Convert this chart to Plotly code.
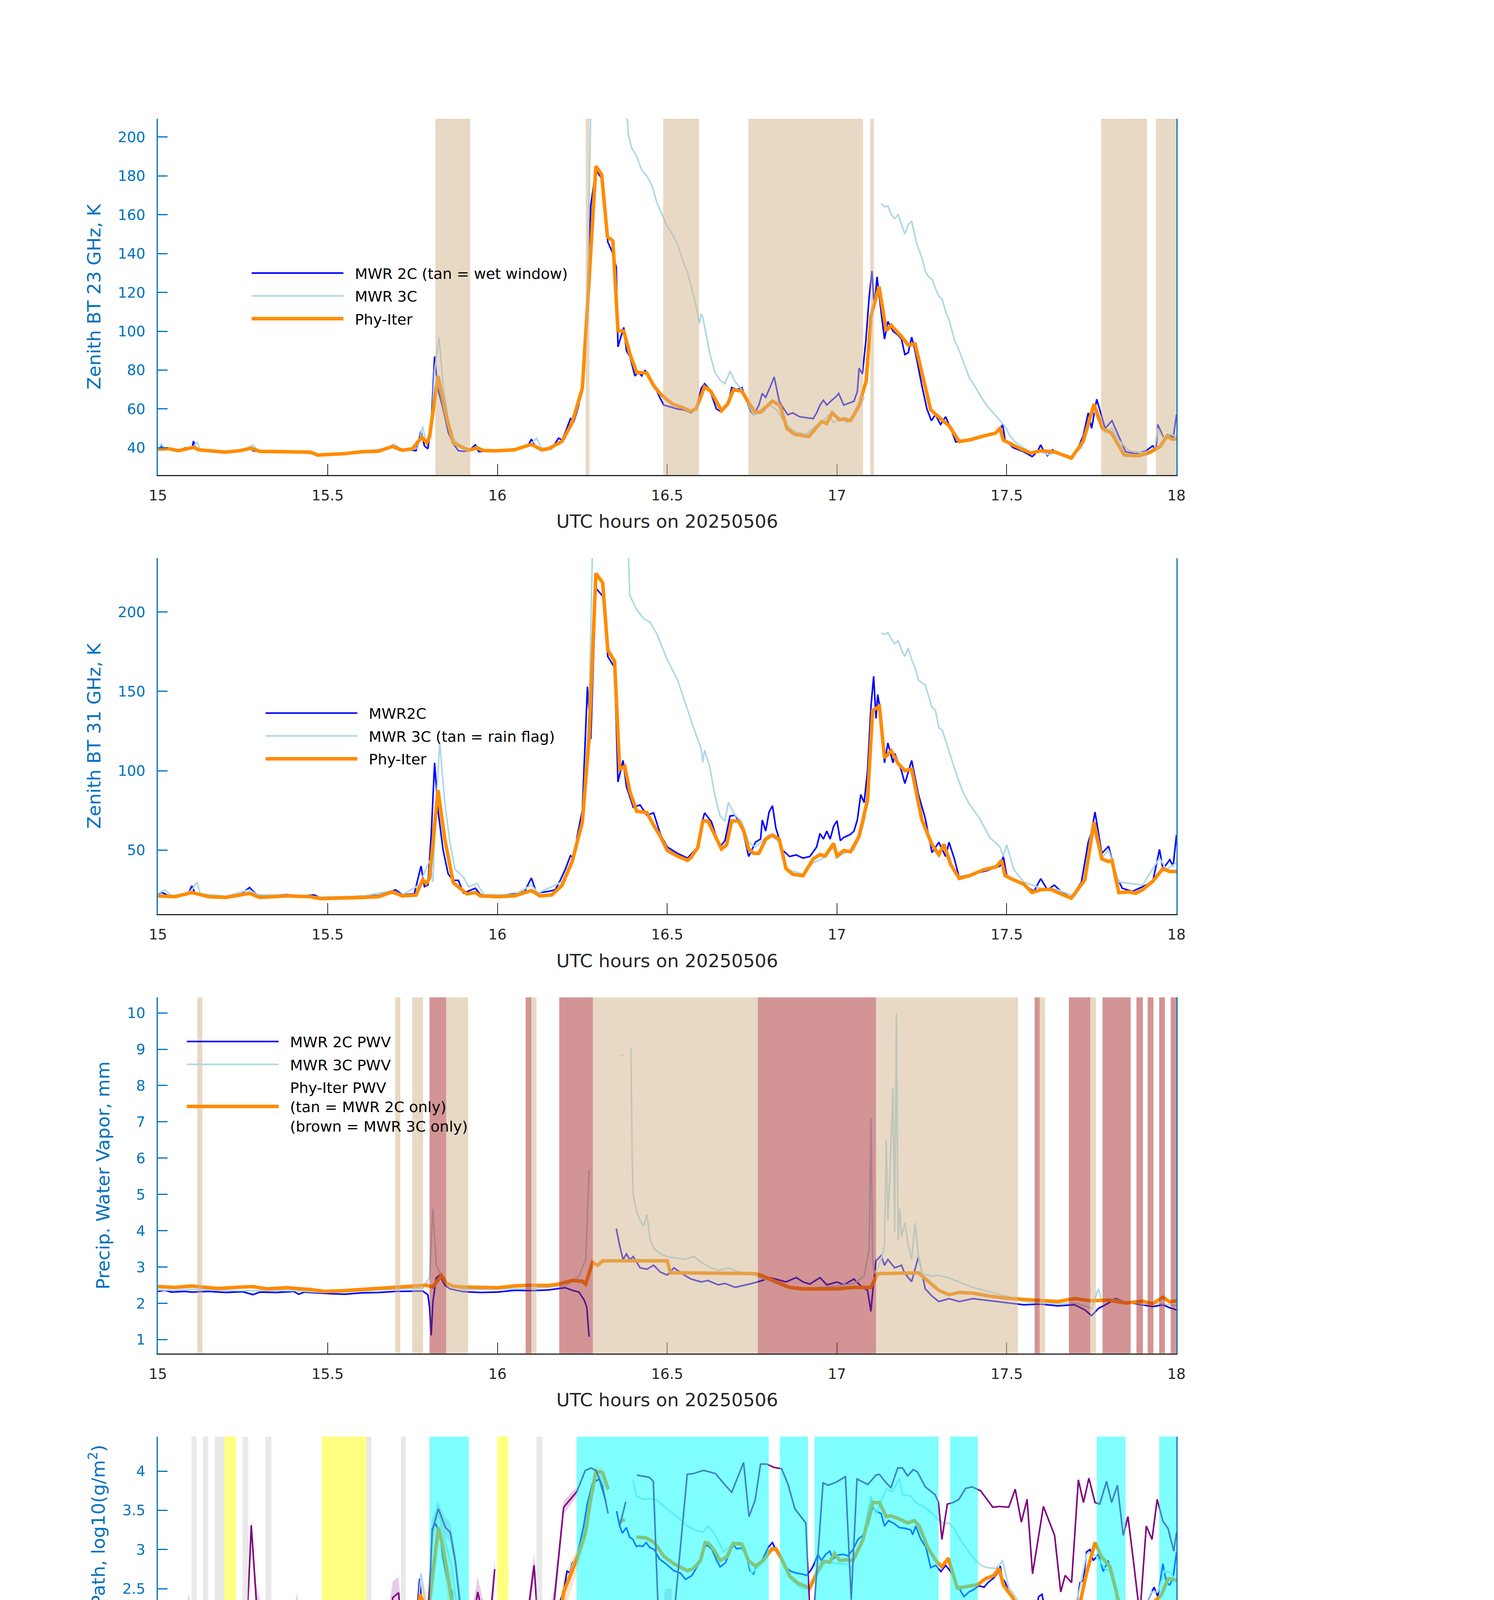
import plotly.graph_objects as go

# ---------------- panel 1: zenith BT 23 GHz (K), (hour, value) ----------------
bt23_2c = [(15.00,39.5),(15.01,41),(15.02,39),(15.04,39.5),(15.06,38.2),(15.08,40),(15.10,39.5),(15.105,43.5),(15.11,40),
    (15.13,39),(15.16,38.5),(15.2,37.8),(15.25,38.5),(15.27,40.5),(15.28,38.5),(15.3,38.0),(15.35,38.2),(15.4,38.0),
    (15.45,37.5),(15.47,36.2),(15.5,36.6),(15.55,37.0),(15.6,37.8),(15.65,38.5),(15.68,40.5),(15.70,41),(15.72,38.5),
    (15.74,39),(15.76,38.5),(15.775,48.5),(15.785,41),(15.795,39.5),(15.805,52),(15.815,87),(15.825,70),(15.84,60),
    (15.855,48),(15.87,42),(15.885,38.5),(15.9,38.2),(15.915,38.5),(15.935,41.5),(15.945,38),(15.97,38.5),(16.0,38.5),
    (16.05,39.5),(16.09,41),(16.1,44.5),(16.11,41),(16.13,38.5),(16.16,39.5),(16.18,45),(16.19,44),(16.2,48),(16.215,55),
    (16.225,53.5),(16.24,62),(16.255,80),(16.265,120),(16.275,165),(16.29,183),(16.31,178),(16.325,146),(16.34,140),
    (16.35,133),(16.355,92),(16.365,98),(16.372,102),(16.38,90),(16.39,87),(16.405,77),(16.415,79),(16.425,77),
    (16.435,80),(16.445,76),(16.46,73),(16.475,67),(16.49,62),(16.51,61),(16.53,60),(16.55,59.5),(16.57,58),(16.585,60),
    (16.6,70.5),(16.61,73),(16.625,70),(16.645,60),(16.66,58.5),(16.68,63),(16.69,71),(16.705,70),(16.72,71),(16.735,64),
    (16.745,59),(16.755,57),(16.77,62),(16.78,68),(16.79,66),(16.805,72),(16.815,76.5),(16.83,64),(16.84,61),(16.855,57),
    (16.87,58),(16.89,56),(16.91,55.5),(16.93,55),(16.94,58),(16.95,62),(16.96,64.5),(16.97,62),(16.985,64.5),(16.995,66),
    (17.005,68),(17.02,62),(17.035,63),(17.05,64),(17.06,69),(17.065,81),(17.075,78),(17.085,95),(17.095,118),(17.103,131),
    (17.11,112),(17.118,128),(17.13,110),(17.14,96),(17.15,105),(17.165,100),(17.18,98),(17.19,96),(17.2,88),(17.21,89),
    (17.22,97),(17.23,90),(17.25,72),(17.265,60),(17.278,54),(17.29,57),(17.305,52),(17.32,56),(17.335,50),(17.35,43),
    (17.38,44),(17.42,46),(17.46,47),(17.48,49),(17.488,52),(17.495,44),(17.52,40),(17.55,38),(17.575,35.5),(17.59,38),
    (17.6,41.5),(17.61,38),(17.62,36),(17.635,39),(17.65,37),(17.69,35),(17.71,40),(17.725,46),(17.74,58),(17.75,50),
    (17.765,65),(17.78,56),(17.79,50),(17.81,54),(17.83,46),(17.85,38),(17.88,37),(17.91,38.5),(17.93,41),(17.94,39),
    (17.945,52),(17.955,48),(17.965,44),(17.98,47),(17.99,45),(18.0,57)]
bt23_3c = [(15.0,39),(15.01,42),(15.02,39.5),(15.05,39),(15.07,38.5),(15.1,39.5),(15.115,43),(15.125,39),(15.16,38.5),
    (15.2,37.8),(15.25,38.5),(15.28,41.5),(15.295,38.5),(15.35,38.2),(15.4,38),(15.47,36.5),(15.55,37),(15.6,38),(15.68,40),
    (15.695,42),(15.71,38.5),(15.74,39),(15.765,40),(15.78,51),(15.79,42),(15.805,47),(15.815,80),(15.828,97),(15.84,72),
    (15.855,55),(15.87,45),(15.885,42),(15.9,39),(15.92,38.5),(15.935,40.5),(15.95,38.5),(16.0,38.5),(16.06,39.5),(16.1,42),
    (16.115,45),(16.13,40),(16.16,39.5),(16.19,44),(16.22,52),(16.25,68),(16.265,120),(16.275,215),(16.38,215),(16.386,201),
    (16.395,194.5),(16.41,190),(16.425,183),(16.44,180),(16.455,175),(16.47,166),(16.485,160),(16.5,154),(16.515,150),
    (16.53,145),(16.545,137),(16.56,130),(16.575,120),(16.585,113.5),(16.595,104),(16.6,109),(16.605,107),(16.615,98),
    (16.625,89),(16.64,79),(16.655,75),(16.67,73),(16.685,79.5),(16.7,74),(16.72,70),(16.74,62),(16.755,57),(16.78,58),
    (16.8,62),(16.82,60),(16.85,52),(16.88,48),(16.91,47),(16.935,51),(16.955,53),(16.975,57),(16.99,53),(17.01,55),
    (17.03,53),(17.05,56),(17.07,62),(17.08,66),(17.09,None),(17.13,166),(17.14,164),(17.15,164.5),(17.16,160),(17.17,158),
    (17.18,160),(17.19,155),(17.2,150),(17.21,155),(17.22,156.5),(17.235,145),(17.25,138),(17.26,131),(17.27,128),
    (17.28,127),(17.29,122),(17.3,118),(17.31,116.5),(17.32,110),(17.33,106),(17.345,96),(17.36,90),(17.375,83),(17.39,76),
    (17.405,72),(17.42,67.5),(17.44,62),(17.46,58),(17.475,55),(17.485,53),(17.495,51),(17.51,46),(17.525,43),(17.55,40),
    (17.575,37),(17.6,38),(17.62,36.5),(17.65,37.5),(17.69,35.5),(17.72,40),(17.74,50),(17.755,60),(17.775,52),(17.79,48),
    (17.81,50),(17.83,44),(17.86,38.5),(17.9,37.5),(17.935,39),(17.945,50),(17.96,45),(17.98,47),(18.0,46)]
bt23_phy = [(15.00,39.3),(15.03,39.6),(15.06,38.5),(15.08,39.5),(15.105,40.3),(15.12,39),(15.15,38.5),(15.2,37.8),(15.24,38.5),
    (15.275,39.8),(15.3,38.2),(15.35,38.2),(15.4,38.0),(15.45,37.8),(15.47,36.3),(15.5,36.5),(15.55,37.0),(15.6,38.0),
    (15.65,38.3),(15.69,40.7),(15.72,38.8),(15.75,39.5),(15.777,45.5),(15.792,42.5),(15.80,45.8),(15.825,77),(15.85,55.8),
    (15.87,42.5),(15.915,38.8),(15.94,40.0),(15.96,38.6),(16.0,38.5),(16.05,39.0),(16.10,41.8),(16.13,39.0),(16.15,39.5),
    (16.19,43.3),(16.22,52.9),(16.25,70.7),(16.267,118),(16.29,185),(16.307,180.6),(16.324,148.6),(16.34,146.5),
    (16.355,100.3),(16.372,100),(16.39,88.4),(16.41,78.8),(16.44,78.5),(16.46,72),(16.48,67.7),(16.516,62.5),(16.547,60.6),
    (16.568,58.8),(16.585,60),(16.61,71.4),(16.628,69.2),(16.66,59.1),(16.678,62.5),(16.695,69.9),(16.72,69.2),(16.737,64),
    (16.758,58.5),(16.775,58.5),(16.81,64),(16.832,61.8),(16.853,49.9),(16.875,47),(16.917,45.8),(16.955,53.6),(16.97,52.5),
    (16.986,58),(17.008,54.4),(17.02,55),(17.04,54),(17.065,61.8),(17.086,74.4),(17.10,107.7),(17.124,123),(17.145,100.3),
    (17.16,103),(17.19,97.3),(17.21,92.9),(17.23,93.5),(17.255,75),(17.276,59.6),(17.30,55.8),(17.318,53),(17.33,51.4),
    (17.36,43.3),(17.39,44),(17.434,46.2),(17.466,47.5),(17.48,49.9),(17.49,44),(17.54,39.6),(17.571,37.3),(17.60,38.5),
    (17.64,38),(17.69,34.7),(17.725,43.3),(17.757,62.5),(17.782,49.9),(17.808,47.7),(17.846,36.3),(17.888,35.9),(17.92,37.5),
    (17.951,40.6),(17.973,46.2),(17.985,44.5),(18.0,44.5)]
wet_window = [(15.817,15.920),(16.260,16.271),(16.488,16.594),(16.739,17.077),(17.098,17.109),(17.778,17.913),(17.939,18.0)]

# ---------------- panel 2: zenith BT 31 GHz (K) ----------------
bt31_2c = [(15.0,22),(15.01,23.5),(15.03,21.5),(15.06,21),(15.09,23),(15.1,27.5),(15.11,22.5),(15.15,21.5),(15.2,20.8),
    (15.24,21.5),(15.27,26.5),(15.29,22),(15.33,21.2),(15.38,22),(15.42,21),(15.46,21.8),(15.48,20),(15.55,20.5),(15.6,21),
    (15.65,21.5),(15.68,23.5),(15.7,25),(15.72,22),(15.755,22.5),(15.775,40),(15.785,27),(15.795,28),(15.805,60),
    (15.815,105),(15.825,75),(15.84,50),(15.855,35),(15.87,31),(15.885,31),(15.9,23),(15.935,26),(15.95,22),(16.0,21.5),
    (16.05,22.5),(16.08,24),(16.1,32.5),(16.115,23),(16.15,24),(16.17,25),(16.185,31),(16.2,38),(16.215,46.5),(16.225,45),
    (16.235,59),(16.25,75),(16.265,153),(16.275,120),(16.29,215),(16.31,210),(16.325,172),(16.345,165),(16.355,93),
    (16.37,106.5),(16.38,90),(16.4,77),(16.42,78.5),(16.44,72),(16.46,73.5),(16.48,60),(16.5,52),(16.53,48),(16.56,45),
    (16.59,52),(16.6,65),(16.61,73.5),(16.63,68),(16.655,52),(16.67,56),(16.685,71.5),(16.7,72),(16.72,65),(16.74,46),
    (16.76,55),(16.775,57),(16.78,69),(16.79,62),(16.8,74),(16.81,78),(16.82,64),(16.84,50),(16.86,46),(16.88,47),(16.9,45),
    (16.92,46),(16.94,52),(16.95,60.5),(16.96,57),(16.97,62),(16.98,57),(16.99,65),(17.0,68.5),(17.01,56),(17.02,58),
    (17.04,60),(17.05,62),(17.06,69),(17.07,85),(17.08,80),(17.09,100),(17.1,140),(17.108,159.5),(17.115,133),(17.12,148),
    (17.13,135),(17.14,105),(17.15,117.5),(17.165,105),(17.17,111),(17.19,100),(17.2,92),(17.22,106.5),(17.24,85),
    (17.26,70),(17.28,48.5),(17.3,55),(17.32,46),(17.33,55),(17.345,45),(17.36,33),(17.4,35),(17.44,37),(17.48,40),
    (17.49,46),(17.5,34),(17.53,30),(17.56,27),(17.58,24),(17.6,32),(17.62,25),(17.64,28),(17.66,24),(17.69,20),(17.72,30),
    (17.74,55),(17.75,62),(17.76,74),(17.78,48),(17.8,52.5),(17.82,35),(17.84,26),(17.87,24),(17.9,27),(17.93,30),
    (17.95,50.5),(17.96,38),(17.98,44),(17.99,40),(18.0,59.5)]
bt31_3c = [(15.0,22.5),(15.02,25),(15.04,21.5),(15.08,22),(15.1,25),(15.115,30),(15.125,22.5),(15.2,21),(15.27,25),
    (15.29,22),(15.4,21.5),(15.48,20.5),(15.6,21),(15.69,24.5),(15.72,22),(15.77,28),(15.8,43.5),(15.81,30),(15.82,80),
    (15.83,118),(15.845,80),(15.86,55),(15.875,38),(15.9,33),(15.915,27),(15.94,29),(15.96,22),(16.05,22),(16.1,28),
    (16.12,23),(16.19,30),(16.22,45),(16.25,70),(16.27,140),(16.28,240),(16.385,240),(16.39,210.5),(16.41,201.5),
    (16.43,196),(16.45,193.5),(16.47,186),(16.5,170),(16.53,157.5),(16.56,138),(16.58,125.7),(16.6,114),(16.605,105.4),
    (16.61,113),(16.625,102.8),(16.64,85),(16.655,72),(16.67,68),(16.68,80),(16.7,72),(16.72,68),(16.74,55),(16.76,52),
    (16.8,60),(16.83,55),(16.85,38),(16.9,35),(16.93,42),(16.96,45),(16.99,52),(17.0,45),(17.02,48),(17.05,50),(17.07,60),
    (17.085,72),(17.09,None),(17.13,186.7),(17.14,186),(17.15,187),(17.16,183),(17.17,180),(17.18,182),(17.19,176),
    (17.2,172),(17.21,177.3),(17.22,170),(17.23,165),(17.24,157),(17.26,154),(17.28,140),(17.29,138),(17.3,127),
    (17.31,125.7),(17.33,112),(17.35,99),(17.37,87),(17.39,79),(17.42,70),(17.45,58),(17.48,52),(17.49,46),(17.5,53.4),
    (17.52,38),(17.55,30),(17.6,26),(17.65,25),(17.7,21),(17.73,32),(17.75,65),(17.78,45),(17.8,50),(17.83,30),(17.9,28),
    (17.95,45),(17.97,38),(18.0,42)]
bt31_phy = [(15.0,21.2),(15.05,20.7),(15.1,23.3),(15.15,20.7),(15.2,20.2),(15.27,22.8),(15.3,20.2),(15.38,21.2),(15.45,20.7),
    (15.48,19.5),(15.6,20.2),(15.65,20.7),(15.69,23.7),(15.72,21.2),(15.76,21.7),(15.78,31.3),(15.79,29),(15.80,32.2),
    (15.825,87.8),(15.845,56.9),(15.87,29.5),(15.91,22.5),(15.935,23.3),(15.95,21.2),(16.0,20.7),(16.05,21.2),(16.1,24.6),
    (16.125,21.2),(16.16,21.8),(16.19,27.8),(16.22,42.8),(16.25,67.5),(16.27,120.4),(16.29,224.3),(16.31,218.4),
    (16.325,176),(16.345,169),(16.36,101),(16.375,102.8),(16.39,86.9),(16.41,74.5),(16.44,73.7),(16.46,65.7),(16.48,58.7),
    (16.5,49.8),(16.53,46.3),(16.56,43.6),(16.57,45.4),(16.59,51.6),(16.605,68.4),(16.62,68.4),(16.66,50.7),(16.675,53.4),
    (16.69,68.4),(16.71,68.4),(16.725,62.2),(16.74,50.7),(16.755,48),(16.77,48),(16.79,56.9),(16.81,59.5),(16.83,56.9),
    (16.85,38.3),(16.87,34.8),(16.9,33.9),(16.93,44.5),(16.95,47.2),(16.965,46.3),(16.99,54.2),(17.0,46.3),(17.02,49.8),
    (17.04,49),(17.065,58.7),(17.09,81.6),(17.105,138),(17.125,140.7),(17.14,108),(17.16,112.5),(17.18,104.6),(17.2,100.1),
    (17.22,101),(17.25,69.2),(17.28,53.4),(17.3,47.2),(17.315,53.7),(17.335,41),(17.36,32.2),(17.39,33.9),(17.43,37.5),
    (17.47,39.6),(17.485,43.6),(17.495,34),(17.52,31.3),(17.55,28.6),(17.575,23.3),(17.6,25.1),(17.63,25.4),(17.65,23.3),
    (17.69,19.8),(17.73,31.3),(17.757,67.5),(17.78,44.5),(17.8,42.8),(17.81,43.6),(17.83,23.3),(17.86,23.7),(17.88,22.8),
    (17.9,25.1),(17.93,30.4),(17.96,38.3),(17.98,36.6),(18.0,36.6)]

# ---------------- panel 3: precipitable water vapor (mm) ----------------
pwv_2c = [(15.0,2.33),(15.02,2.36),(15.04,2.31),(15.08,2.33),(15.1,2.31),(15.15,2.33),(15.2,2.30),(15.25,2.32),(15.28,2.24),
    (15.3,2.31),(15.35,2.30),(15.4,2.33),(15.415,2.25),(15.43,2.31),(15.5,2.27),(15.55,2.25),(15.6,2.29),(15.65,2.30),
    (15.7,2.33),(15.75,2.34),(15.78,2.34),(15.795,2.24),(15.8,1.9),(15.805,1.12),(15.81,2.05),(15.82,2.70),(15.83,2.78),
    (15.845,2.50),(15.86,2.40),(15.9,2.32),(15.95,2.30),(16.0,2.31),(16.05,2.36),(16.1,2.35),(16.15,2.37),(16.2,2.43),
    (16.22,2.36),(16.24,2.31),(16.255,2.1),(16.263,1.9),(16.27,1.08),(16.275,None),(16.35,4.06),(16.36,3.59),(16.37,3.21),
    (16.38,3.36),(16.39,3.2),(16.4,3.29),(16.42,2.98),(16.44,2.94),(16.46,3.05),(16.48,2.86),(16.5,2.78),(16.52,2.98),
    (16.55,2.78),(16.57,2.67),(16.6,2.59),(16.62,2.63),(16.65,2.51),(16.67,2.55),(16.7,2.44),(16.72,2.48),(16.75,2.55),
    (16.78,2.63),(16.8,2.71),(16.82,2.67),(16.85,2.59),(16.88,2.71),(16.9,2.59),(16.92,2.53),(16.95,2.71),(16.97,2.51),
    (17.0,2.59),(17.02,2.51),(17.05,2.67),(17.07,2.48),(17.09,2.36),(17.1,1.78),(17.105,2.3),(17.115,3.17),(17.13,3.32),
    (17.14,3.05),(17.15,3.21),(17.17,2.98),(17.19,3.05),(17.2,2.82),(17.22,2.6),(17.24,3.29),(17.26,2.40),(17.28,2.20),
    (17.3,2.05),(17.33,2.13),(17.36,2.05),(17.4,2.13),(17.45,2.07),(17.5,2.01),(17.55,1.96),(17.6,1.98),(17.65,1.93),
    (17.7,1.96),(17.73,1.82),(17.75,1.66),(17.77,1.86),(17.8,2.01),(17.82,2.13),(17.85,2.04),(17.9,1.96),(17.93,1.91),
    (17.96,1.96),(17.98,1.88),(18.0,1.82)]
pwv_3c = [(15.0,2.37),(15.05,2.36),(15.1,2.39),(15.2,2.35),(15.3,2.35),(15.4,2.35),(15.49,2.30),(15.55,2.31),(15.65,2.37),
    (15.72,2.40),(15.78,2.42),(15.8,2.70),(15.81,4.6),(15.82,3.05),(15.83,2.85),(15.85,2.52),(15.9,2.38),
    (16.0,2.39),(16.1,2.41),(16.2,2.48),(16.24,2.75),(16.26,3.21),(16.27,5.68),(16.275,None),(16.366,8.86),(16.369,8.8),
    (16.372,None),(16.393,9.02),(16.397,5.9),(16.4,4.98),(16.41,4.52),(16.42,4.29),(16.43,4.13),(16.44,4.44),(16.45,3.75),
    (16.46,3.52),(16.48,3.36),(16.5,3.29),(16.55,3.21),(16.58,3.29),(16.6,3.13),(16.63,2.98),(16.65,2.9),(16.68,2.98),
    (16.7,2.9),(16.75,2.79),(16.8,2.63),(16.85,2.44),(16.9,2.38),(16.95,2.44),(17.0,2.48),(17.05,2.55),(17.08,2.75),
    (17.095,3.5),(17.1,7.1),(17.105,3.2),(17.11,2.82),(17.12,2.98),(17.13,3.21),(17.14,3.6),(17.145,6.49),(17.15,4.29),
    (17.155,5.37),(17.165,7.92),(17.17,3.98),(17.175,10.0),(17.18,3.75),(17.185,4.6),(17.19,3.83),(17.2,4.21),(17.21,3.6),
    (17.22,3.21),(17.23,4.21),(17.24,3.29),(17.25,2.82),(17.28,2.75),(17.3,2.77),(17.33,2.7),(17.36,2.59),(17.4,2.44),
    (17.45,2.32),(17.5,2.2),(17.55,2.05),(17.6,2.01),(17.65,1.99),(17.7,2.01),(17.73,1.93),(17.75,1.86),(17.77,2.40),
    (17.78,2.05),(17.8,2.13),(17.85,2.05),(17.9,1.98),(17.95,1.99),(18.0,1.94)]
pwv_phy = [(15.0,2.46),(15.05,2.44),(15.1,2.48),(15.15,2.44),(15.175,2.41),(15.25,2.45),(15.28,2.46),(15.32,2.40),
    (15.38,2.43),(15.45,2.38),(15.49,2.33),(15.55,2.35),(15.6,2.38),(15.64,2.42),(15.7,2.46),(15.77,2.49),(15.79,2.50),
    (15.81,2.45),(15.835,2.77),(15.85,2.55),(15.87,2.47),(15.9,2.45),(15.95,2.44),(16.0,2.43),(16.05,2.48),(16.1,2.50),
    (16.15,2.49),(16.18,2.53),(16.22,2.63),(16.25,2.61),(16.26,2.53),(16.28,3.13),(16.295,3.05),(16.31,3.17),(16.5,3.17),
    (16.51,2.84),(16.55,2.84),(16.65,2.84),(16.7,2.82),(16.76,2.82),(16.78,2.76),(16.82,2.59),(16.86,2.44),(16.9,2.40),
    (16.95,2.40),(17.0,2.40),(17.05,2.44),(17.1,2.44),(17.12,2.82),(17.24,2.84),(17.3,2.36),(17.33,2.24),(17.36,2.30),
    (17.4,2.28),(17.45,2.20),(17.5,2.14),(17.55,2.11),(17.6,2.09),(17.65,2.05),(17.7,2.13),(17.75,2.07),(17.8,2.09),
    (17.85,2.01),(17.9,2.06),(17.93,1.99),(17.96,2.17),(17.98,2.04),(18.0,2.07)]
only_2c = [(15.116,15.131),(15.699,15.714),(15.749,15.781),(15.849,15.914),(16.100,16.115),(16.281,16.767),(17.115,17.533),
    (17.597,17.613),(17.746,17.763)]
only_3c = [(15.800,15.849),(16.083,16.100),(16.182,16.281),(16.767,17.115),(17.582,17.597),(17.683,17.746),(17.782,17.865),
    (17.882,17.901),(17.915,17.932),(17.949,17.966),(17.983,18.0)]

# ---------------- panel 4: log10 liquid water path ----------------
lwp_2c = [(15.0,1.58),(15.009,1.84),(15.019,1.51),(15.033,1.72),(15.043,1.58),(15.057,1.69),(15.067,1.63),(15.076,1.82),
    (15.091,1.84),(15.106,1.76),(15.118,2.18),(15.131,1.51),(15.145,1.66),(15.157,1.55),(15.168,1.54),(15.183,1.60),
    (15.19,1.51),(15.197,1.45),(15.205,1.51),(15.215,1.54),(15.225,1.45),(15.241,1.63),(15.253,1.57),(15.27,1.84),
    (15.277,1.66),(15.284,2.07),(15.296,2.07),(15.309,1.64),(15.318,1.69),(15.333,1.45),(15.343,1.52),(15.357,1.69),
    (15.367,1.66),(15.382,1.70),(15.396,1.58),(15.405,1.54),(15.417,1.61),(15.43,1.54),(15.44,1.70),(15.454,1.69),
    (15.467,1.54),(15.479,1.43),(15.488,1.49),(15.503,1.36),(15.518,1.43),(15.537,1.45),(15.556,1.44),(15.576,1.46),
    (15.59,1.51),(15.605,1.45),(15.619,1.51),(15.629,1.51),(15.643,1.55),(15.653,1.67),(15.663,1.79),(15.672,1.95),
    (15.684,1.79),(15.697,1.94),(15.706,1.66),(15.716,1.49),(15.725,1.51),(15.738,1.87),(15.754,1.87),(15.764,2.27),
    (15.771,2.63),(15.781,2.10),(15.79,1.95),(15.8,2.31),(15.808,3.27),(15.818,3.33),(15.832,3.18),(15.839,2.91),
    (15.851,2.64),(15.866,2.46),(15.871,2.16),(15.886,1.90),(15.895,1.78),(15.91,1.58),(15.919,1.69),(15.926,1.82),
    (15.936,1.63),(15.949,1.51),(15.958,1.45),(15.968,1.69),(15.975,1.84),(15.982,1.45),(15.997,1.54),(16.012,1.51),
    (16.026,1.58),(16.039,1.54),(16.051,1.57),(16.06,1.72),(16.07,1.51),(16.08,1.87),(16.089,1.69),(16.099,2.10),
    (16.108,2.28),(16.118,1.78),(16.133,1.63),(16.142,1.60),(16.152,1.58),(16.161,1.87),(16.171,1.95),(16.184,2.34),
    (16.195,2.46),(16.205,2.73),(16.213,2.70),(16.22,2.82),(16.234,2.91),(16.254,3.30),(16.264,3.57),(16.28,3.85),
    (16.3,3.9),(16.32,3.6),(16.33,None),(16.351,3.49),(16.36,3.30),(16.368,3.21),(16.38,3.28),(16.389,3.16),(16.399,3.13),
    (16.409,3.04),(16.419,3.05),(16.428,3.04),(16.438,3.09),(16.448,3.03),(16.462,3.0),(16.477,2.88),(16.496,2.82),
    (16.52,2.73),(16.539,2.70),(16.554,2.62),(16.573,2.67),(16.593,2.82),(16.607,3.01),(16.617,3.06),(16.632,3.0),
    (16.646,2.86),(16.656,2.78),(16.671,2.83),(16.686,2.97),(16.695,3.06),(16.705,3.01),(16.72,3.02),(16.734,2.91),
    (16.744,2.73),(16.754,2.69),(16.766,2.82),(16.778,2.85),(16.788,2.94),(16.798,3.03),(16.81,3.09),(16.822,2.97),
    (16.837,2.86),(16.852,2.76),(16.866,2.72),(16.881,2.70),(16.896,2.69),(16.91,2.67),(16.922,2.73),(16.93,2.79),
    (16.944,2.94),(16.954,2.86),(16.967,2.94),(16.979,2.98),(16.988,2.88),(17.003,2.93),(17.018,2.94),(17.032,2.92),
    (17.047,3.0),(17.062,3.13),(17.076,3.18),(17.091,3.31),(17.105,3.54),(17.115,3.49),(17.13,3.46),(17.14,3.30),
    (17.152,3.37),(17.169,3.33),(17.184,3.28),(17.203,3.27),(17.218,3.25),(17.223,3.19),(17.232,3.30),(17.247,3.13),
    (17.262,3.03),(17.276,2.77),(17.291,2.80),(17.306,2.72),(17.32,2.80),(17.335,2.72),(17.35,2.58),(17.364,2.48),
    (17.374,2.40),(17.389,2.46),(17.403,2.49),(17.418,2.54),(17.433,2.52),(17.445,2.58),(17.462,2.64),(17.477,2.73),
    (17.481,2.79),(17.486,2.64),(17.496,2.58),(17.506,2.46),(17.52,2.34),(17.535,2.22),(17.547,2.30),(17.56,2.22),
    (17.574,2.12),(17.584,2.19),(17.594,2.40),(17.604,2.43),(17.613,2.22),(17.625,2.22),(17.633,2.28),(17.643,2.18),
    (17.652,2.07),(17.662,2.04),(17.672,1.93),(17.686,1.92),(17.696,2.25),(17.706,2.31),(17.716,2.58),(17.726,2.61),
    (17.735,2.97),(17.745,3.0),(17.755,2.86),(17.77,2.94),(17.784,2.72),(17.799,2.86),(17.813,2.58),(17.828,2.40),
    (17.843,2.18),(17.853,2.22),(17.862,2.30),(17.872,2.13),(17.882,2.05),(17.895,2.22),(17.906,2.27),(17.921,2.40),
    (17.934,2.52),(17.945,2.40),(17.96,2.82),(17.97,2.58),(17.98,2.55),(17.99,2.64),(18.0,2.97)]
lwp_3c = [(15.0,1.36),(15.01,1.5),(15.02,1.55),(15.035,1.35),(15.05,1.35),(15.065,1.45),(15.08,1.4),(15.1,1.5),(15.115,1.6),
    (15.125,2.35),(15.135,1.5),(15.15,1.4),(15.17,1.35),(15.185,1.3),(15.2,1.25),(15.21,1.22),(15.22,1.2),(15.235,1.25),
    (15.25,1.35),(15.265,1.45),(15.28,1.5),(15.295,1.7),(15.305,2.0),(15.315,1.6),(15.33,1.4),(15.345,1.35),(15.36,1.45),
    (15.38,1.5),(15.395,1.4),(15.41,1.45),(15.43,1.35),(15.445,1.3),(15.46,1.3),(15.475,1.25),(15.49,1.18),(15.5,1.12),
    (15.51,1.15),(15.53,1.17),(15.55,1.18),(15.57,1.2),(15.59,1.22),(15.61,1.25),(15.63,1.26),(15.645,1.3),(15.66,1.45),
    (15.675,1.6),(15.69,1.7),(15.705,1.55),(15.72,1.6),(15.735,1.75),(15.75,1.9),(15.765,2.2),(15.775,2.7),(15.785,2.4),
    (15.795,2.2),(15.805,2.9),(15.815,3.4),(15.825,3.6),(15.835,3.3),(15.85,3.05),(15.865,2.8),(15.88,2.3),(15.895,1.9),
    (15.91,1.6),(15.925,1.5),(15.94,1.45),(15.955,1.35),(15.97,1.3),(15.99,1.3),(16.01,1.25),(16.03,1.28),(16.05,1.3),
    (16.07,1.25),(16.09,1.45),(16.105,1.6),(16.12,1.9),(16.135,1.55),(16.15,1.5),(16.165,1.75),(16.18,2.1),(16.2,2.5),
    (16.22,2.8),(16.24,3.0),(16.255,3.2),(16.27,3.6),(16.285,3.92),(16.3,3.95),(16.315,3.8),(16.33,None),(16.399,3.88),
    (16.41,3.68),(16.43,3.64),(16.45,3.65),(16.47,3.63),(16.49,3.55),(16.5,3.52),(16.529,3.42),(16.559,3.30),(16.583,3.25),
    (16.603,3.22),(16.622,3.30),(16.642,3.18),(16.666,2.97),(16.69,3.06),(16.71,3.09),(16.729,3.0),(16.749,2.70),
    (16.773,2.80),(16.798,2.94),(16.822,3.03),(16.837,2.88),(16.861,2.64),(16.89,2.52),(16.92,2.49),(16.94,2.66),
    (16.969,2.86),(16.998,2.82),(17.027,2.82),(17.042,2.76),(17.047,2.85),(17.076,3.15),(17.1,3.68),(17.115,3.45),
    (17.145,3.77),(17.164,3.74),(17.184,3.91),(17.193,3.70),(17.218,3.68),(17.232,3.60),(17.257,3.54),(17.281,3.46),
    (17.296,3.39),(17.315,3.33),(17.33,3.34),(17.35,3.24),(17.364,3.12),(17.379,3.03),(17.398,2.91),(17.423,2.80),
    (17.442,2.77),(17.467,2.76),(17.481,2.82),(17.488,2.86),(17.506,2.52),(17.525,2.40),(17.55,2.25),(17.564,2.16),
    (17.582,1.72),(17.594,2.34),(17.613,2.25),(17.633,2.28),(17.652,2.25),(17.672,1.93),(17.686,1.66),(17.696,2.19),
    (17.716,2.52),(17.735,2.94),(17.75,2.97),(17.77,2.88),(17.789,2.76),(17.813,2.70),(17.828,2.34),(17.848,2.10),
    (17.867,2.04),(17.887,1.98),(17.906,2.28),(17.926,2.46),(17.945,2.46),(17.965,2.73),(17.984,2.70),(18.0,2.58)]
lwp_phy = [(15.0,1.24),(15.009,1.06),(15.028,1.40),(15.043,1.33),(15.057,0.85),(15.091,1.60),(15.106,1.76),(15.12,1.51),
    (15.139,0.72),(15.159,0.46),(15.173,-0.16),(15.2,None),(15.241,0.39),(15.258,0.58),(15.275,1.51),(15.293,1.75),
    (15.304,1.51),(15.323,0.29),(15.341,0.33),(15.36,1.03),(15.377,1.30),(15.391,0.97),(15.409,0.64),(15.425,0.54),
    (15.44,1.25),(15.459,1.26),(15.476,0.15),(15.55,None),(15.629,-0.12),(15.641,0.20),(15.658,1.21),(15.672,1.69),
    (15.692,1.81),(15.709,1.21),(15.72,1.33),(15.74,1.51),(15.759,1.81),(15.772,2.43),(15.784,2.31),(15.794,2.13),
    (15.803,2.46),(15.826,3.28),(15.837,3.09),(15.857,2.58),(15.886,1.75),(15.91,1.34),(15.925,1.51),(15.942,1.75),
    (15.96,0.30),(15.976,1.25),(15.984,-0.12),(16.01,None),(16.048,-0.12),(16.065,1.09),(16.089,1.69),(16.108,1.93),
    (16.126,1.33),(16.142,0.70),(16.157,1.06),(16.176,1.90),(16.195,2.46),(16.215,2.67),(16.234,2.88),(16.259,3.21),
    (16.273,3.60),(16.29,4.0),(16.31,3.98),(16.326,3.77),(16.34,None),(16.36,3.36),(16.375,3.38),(16.39,None),
    (16.409,3.16),(16.438,3.15),(16.462,3.09),(16.491,2.91),(16.52,2.82),(16.559,2.73),(16.578,2.76),(16.598,2.86),
    (16.612,3.09),(16.622,3.08),(16.637,3.0),(16.656,2.86),(16.676,2.91),(16.695,3.08),(16.72,3.07),(16.739,2.86),
    (16.759,2.79),(16.783,2.86),(16.808,3.01),(16.822,3.0),(16.837,2.88),(16.861,2.66),(16.886,2.57),(16.92,2.51),
    (16.94,2.70),(16.959,2.85),(16.979,2.84),(16.993,2.95),(17.008,2.86),(17.027,2.87),(17.047,2.86),(17.076,3.12),
    (17.105,3.60),(17.125,3.60),(17.145,3.42),(17.159,3.43),(17.184,3.39),(17.208,3.34),(17.228,3.37),(17.242,3.30),
    (17.267,3.03),(17.291,2.86),(17.309,2.78),(17.328,2.89),(17.354,2.51),(17.389,2.54),(17.413,2.55),(17.438,2.63),
    (17.462,2.67),(17.477,2.76),(17.491,2.54),(17.516,2.40),(17.535,2.25),(17.555,2.18),(17.574,1.95),(17.589,2.06),
    (17.613,2.16),(17.633,2.13),(17.662,1.93),(17.691,1.33),(17.711,2.22),(17.735,2.70),(17.76,3.09),(17.779,2.91),
    (17.804,2.78),(17.823,2.46),(17.843,1.98),(17.867,1.98),(17.892,1.93),(17.911,2.19),(17.936,2.34),(17.955,2.42),
    (17.975,2.63),(18.0,2.61)]
lwp_adi = [(15.0,2.06),(15.009,2.10),(15.028,2.02),(15.043,1.67),(15.057,1.62),(15.07,1.62),(15.091,2.24),(15.109,1.46),
    (15.149,1.45),(15.165,1.45),(15.177,1.19),(15.195,1.46),(15.2,None),(15.241,1.84),(15.258,1.64),(15.275,3.31),
    (15.29,2.34),(15.304,2.04),(15.326,1.09),(15.352,1.42),(15.375,2.13),(15.391,1.34),(15.409,2.19),(15.442,1.31),
    (15.459,1.58),(15.476,1.19),(15.55,None),(15.629,1.21),(15.641,1.27),(15.658,1.51),(15.672,1.79),(15.692,2.39),
    (15.709,2.45),(15.725,1.45),(15.745,2.06),(15.759,2.06),(15.777,1.82),(15.794,1.97),(15.808,3.24),(15.826,3.52),
    (15.847,3.28),(15.861,3.22),(15.876,2.85),(15.895,2.10),(15.922,1.94),(15.942,2.46),(15.973,1.84),(15.992,2.75),
    (16.02,None),(16.045,1.54),(16.06,1.57),(16.074,1.49),(16.096,2.40),(16.108,2.80),(16.126,1.61),(16.145,1.85),
    (16.167,2.34),(16.195,3.54),(16.234,3.74),(16.259,4.01),(16.276,4.04),(16.29,4.01),(16.31,3.80),(16.326,3.46),
    (16.34,None),(16.36,3.30),(16.378,3.61),(16.39,None),(16.411,3.95),(16.448,3.92),(16.459,3.87),(16.477,1.81),
    (16.494,2.21),(16.513,2.32),(16.524,2.34),(16.559,3.96),(16.578,3.97),(16.607,4.01),(16.642,3.97),(16.671,3.82),
    (16.69,3.73),(16.71,3.95),(16.725,4.11),(16.741,3.42),(16.759,3.63),(16.775,4.09),(16.793,4.09),(16.813,4.05),
    (16.837,4.03),(16.856,3.83),(16.876,3.52),(16.908,3.34),(16.925,1.78),(16.959,3.85),(16.974,3.82),(16.998,3.86),
    (17.025,3.93),(17.042,2.36),(17.059,3.90),(17.091,3.83),(17.115,3.95),(17.125,3.96),(17.145,3.85),(17.159,3.79),
    (17.179,4.04),(17.193,4.04),(17.208,3.94),(17.225,4.02),(17.237,3.99),(17.26,3.80),(17.289,3.70),(17.299,3.60),
    (17.309,3.13),(17.325,3.58),(17.342,3.60),(17.359,3.64),(17.379,3.78),(17.398,3.80),(17.423,3.75),(17.459,3.54),
    (17.477,3.55),(17.506,3.54),(17.525,3.77),(17.543,3.35),(17.56,3.64),(17.576,2.69),(17.608,3.55),(17.641,3.18),
    (17.659,2.46),(17.672,2.67),(17.691,2.58),(17.711,3.89),(17.726,3.60),(17.742,3.91),(17.76,3.60),(17.774,3.58),
    (17.794,3.87),(17.809,3.60),(17.826,3.82),(17.843,3.18),(17.857,3.42),(17.875,2.79),(17.892,2.16),(17.911,3.30),
    (17.928,3.13),(17.943,3.64),(17.96,3.36),(17.975,3.27),(17.992,2.98),(18.0,3.22)]
# uncertainty envelopes: segments of (hour, low, high)
lwp_phy_band = [
    [(15.0,-0.2,1.55),(15.028,-0.2,1.7),(15.057,-0.2,1.3),(15.091,-0.2,1.9),(15.106,0.4,2.0),(15.12,-0.2,1.8),
     (15.139,-0.2,1.2),(15.159,-0.2,0.9),(15.175,-0.2,0.5)],
    [(15.235,-0.2,0.8),(15.258,-0.2,1.2),(15.275,-0.2,1.85),(15.293,-0.2,2.0),(15.304,-0.2,1.8),(15.323,-0.2,0.8),
     (15.341,-0.2,0.9),(15.36,-0.2,1.4),(15.377,-0.2,1.65),(15.391,-0.2,1.4),(15.409,-0.2,1.0),(15.425,-0.2,0.95),
     (15.44,-0.2,1.5),(15.459,-0.2,1.55),(15.476,-0.2,1.4)],
    [(15.625,-0.2,0.3),(15.641,-0.2,0.8),(15.658,-0.2,1.5),(15.672,0.3,1.95),(15.692,0.4,2.05),(15.709,-0.2,1.6),
     (15.72,0.2,1.7),(15.74,0.6,1.85),(15.759,1.2,2.1),(15.772,2.0,2.7),(15.784,1.9,2.55),(15.794,1.7,2.4),
     (15.803,2.1,2.7),(15.826,3.05,3.45),(15.837,2.85,3.3),(15.857,2.25,2.9),(15.886,1.3,2.1),(15.91,0.8,1.7),
     (15.925,0.9,1.8),(15.942,1.3,2.0),(15.96,-0.2,0.9),(15.976,0.5,1.6),(15.985,-0.2,0.4)],
    [(16.045,-0.2,0.4),(16.065,0.3,1.5),(16.089,1.0,1.95),(16.108,1.3,2.15),(16.126,0.7,1.7),(16.142,-0.2,1.2),
     (16.157,0.4,1.45),(16.176,1.4,2.15),(16.195,2.15,2.65),(16.215,2.45,2.85),(16.234,2.7,3.0),(16.259,3.1,3.32),
     (16.273,3.5,3.7),(16.29,3.92,4.06),(16.31,3.9,4.04),(16.326,3.7,3.84)],
    [(17.535,2.18,2.33),(17.555,2.08,2.28),(17.574,1.82,2.05),(17.589,1.95,2.15),(17.613,2.08,2.25),(17.633,2.05,2.22),
     (17.662,1.75,2.05),(17.691,-0.2,1.5),(17.711,2.1,2.32),(17.735,2.62,2.78)],
    [(17.823,2.38,2.55),(17.843,1.85,2.08),(17.867,1.85,2.1),(17.892,1.7,2.05),(17.911,2.1,2.28),(17.936,2.28,2.4)]]
lwp_adi_band = [
    [(15.0,1.9,2.28),(15.009,1.95,2.3),(15.028,1.88,2.15),(15.043,1.5,1.85),(15.057,1.45,1.8),(15.07,1.5,1.75),
     (15.091,2.0,2.45),(15.109,0.9,1.8),(15.149,0.9,1.8),(15.177,0.85,1.55),(15.195,0.9,1.7)],
    [(15.241,1.55,2.1),(15.258,1.4,1.9),(15.275,3.2,3.4),(15.29,2.1,2.55),(15.304,1.7,2.3),(15.326,0.85,1.4),
     (15.352,1.15,1.7),(15.375,1.9,2.35),(15.391,1.05,1.6),(15.409,1.95,2.45),(15.442,1.0,1.6),(15.459,1.3,1.85),
     (15.476,0.6,1.45)],
    [(15.629,0.6,1.5),(15.641,0.9,1.55),(15.658,1.25,1.8),(15.672,1.55,2.05),(15.692,2.2,2.6),(15.709,2.25,2.65),
     (15.725,1.2,1.75),(15.745,1.85,2.3),(15.759,1.85,2.3),(15.777,1.55,2.05),(15.794,1.75,2.2),(15.808,3.05,3.4),
     (15.826,3.42,3.6),(15.847,3.15,3.4),(15.861,3.1,3.35),(15.876,2.7,3.0),(15.895,1.9,2.3),(15.922,1.7,2.15),
     (15.942,2.3,2.65),(15.973,1.6,2.05),(15.992,2.6,2.9)],
    [(16.045,1.3,1.75),(16.06,1.35,1.8),(16.074,1.3,1.7),(16.096,2.25,2.55),(16.108,2.65,2.95),(16.126,1.4,1.8),
     (16.145,1.6,2.1),(16.167,2.15,2.5),(16.195,3.45,3.62),(16.234,3.68,3.8)],
    [(16.462,3.7,3.95),(16.477,1.45,2.0),(16.494,1.95,2.5),(16.513,2.2,2.5)]]
gray_bands = [(15.099,15.114),(15.133,15.148),(15.167,15.196),(15.249,15.266),(15.317,15.334),(15.614,15.629),
    (15.716,15.730),(16.115,16.132)]
yellow_bands = [(15.196,15.230),(15.483,15.614),(15.999,16.032)]
cyan_bands = [(15.800,15.916),(16.233,16.799),(16.832,16.915),(16.934,17.299),(17.333,17.415),(17.765,17.850),(17.949,18.0)]

# ---------------- panel 5: DQ flag, minute index after 15:00 UTC ----------------
flag_minutes = {
    11: [48,49,50,51,52,53,54,74,75,76,77,78,79,81,82,84,85,86,87,88,89,90,91,92,93,94,95,96,97,98,99,100,101,102,103,
         104,105,106,107,110,111,112,113,114,116,117,118,119,120,121,122,123,124,125,126,127,128,129,130,131,132,133,134,
         135,136,137,140,141,142,143,144,166,167,168,169,170,177,178,179],
    10: [48,49,50,74,75,76,77,78,79,80,81,82,83,84,85,86,87,88,89,90,91,103,104,105,106,110,111,116,117,118,119,120,121,
         122,123,124,125,126,127,128,129,130,131,132,133,134,140,141,142,143,144,166,167,168,169,170,177,178,179],
    9: [49,75,76,77,78,79,80,81,82,88,121,122,123,124,125,126,127,128,129,133,167],
    7: [77,78,79,80,81,82,83,84,85,86,87,88,89,90,91,92,93,94,95,96,97,98,99,100,101,102,103,104,105,106,107,126,127,
        128,129,130,131,132,133,134,135],
    6: [49,74,75,76,77,78,79,80,81,82,83,84,85,86,87,88,90,91,92,93,94,95,96,97,98,100,101,102,107,119,125,126,127,128,
        129,130,131,132,133,134,135,136,137,165],
    5: [12,13,29,30,31,32,33,34,35,36,60,61],
    4: [6,8,10,11,15,19,37,43,67],
    0: [0,1,2,3,4,5,7,9,14,16,17,18,20,21,22,23,24,25,26,27,28,38,39,40,41,42,44,45,46,47,55,56,57,58,59,62,63,64,65,
        66,68,69,70,71,72,73,108,109,115,138,139,145,146,147,148,149,150,151,152,153,154,155,156,157,158,159,160,161,
        162,163,164,171,172,173,174,175,176,180],
}

BLUE, LBLUE, ORANGE, PURPLE = '#0000FF', '#ADD8E6', '#FF8C00', '#800080'
AXBLUE, DARK = '#0072BD', '#262626'
FONT = 'DejaVu Sans'
PAD = '\u00a0\u00a0'


def sfx(i):
    return '' if i == 1 else str(i)


def split(pairs):
    return [p[0] for p in pairs], [p[1] for p in pairs]


def band_xy(segments):
    xs, ys = [], []
    for seg in segments:
        t = [s[0] for s in seg]
        xs += t + t[::-1] + [None]
        ys += [s[2] for s in seg] + [s[1] for s in seg][::-1] + [None]
    return xs, ys


fig = go.Figure()


def line(i, pairs, name, color, width, legend):
    x, y = split(pairs)
    label = '<br>'.join(PAD + part for part in name.split('<br>'))
    fig.add_trace(go.Scatter(x=x, y=y, mode='lines', name=label, line=dict(color=color, width=width),
                             xaxis='x' + sfx(i), yaxis='y' + sfx(i), legend=legend, legendgroup=name))


line(1, bt23_2c, 'MWR 2C (tan = wet window)', BLUE, 4, 'legend')
line(1, bt23_3c, 'MWR 3C', LBLUE, 4, 'legend')
line(1, bt23_phy, 'Phy-Iter', ORANGE, 9, 'legend')

line(2, bt31_2c, 'MWR2C', BLUE, 4, 'legend2')
line(2, bt31_3c, 'MWR 3C (tan = rain flag)', LBLUE, 4, 'legend2')
line(2, bt31_phy, 'Phy-Iter', ORANGE, 9, 'legend2')

line(3, pwv_2c, 'MWR 2C PWV', BLUE, 4, 'legend3')
line(3, pwv_3c, 'MWR 3C PWV', LBLUE, 4, 'legend3')
line(3, pwv_phy, 'Phy-Iter PWV<br>(tan = MWR 2C only)<br>(brown = MWR 3C only)', ORANGE, 9, 'legend3')

for segs, col in [(lwp_phy_band, 'rgba(255,140,0,0.2)'), (lwp_adi_band, 'rgba(128,0,128,0.2)')]:
    bx, by = band_xy(segs)
    fig.add_trace(go.Scatter(x=bx, y=by, mode='lines', fill='toself', fillcolor=col, line=dict(width=0),
                             xaxis='x4', yaxis='y4', showlegend=False, hoverinfo='skip'))
line(4, lwp_2c, 'MWR 2C LWP', BLUE, 4, 'legend4')
line(4, lwp_3c, 'MWR 3C LWP', LBLUE, 4, 'legend4')
line(4, lwp_phy, 'Phy-Iter LWP', ORANGE, 9, 'legend4')
line(4, lwp_adi, 'Adiabatic LWP', PURPLE, 4, 'legend4')

fx, fy = [], []
for flag, mins in flag_minutes.items():
    fx += [15 + (m + 0.5) / 60 for m in mins]
    fy += [flag] * len(mins)
fig.add_trace(go.Scatter(x=fx, y=fy, mode='markers', marker=dict(color=ORANGE, size=7, line=dict(width=0)),
                         xaxis='x5', yaxis='y5', showlegend=False))

# semi-transparent flag patches drawn over the lines
shapes = []
for i, spans, col in [(1, wet_window, 'rgba(210,180,140,0.5)'), (3, only_2c, 'rgba(210,180,140,0.5)'),
                      (3, only_3c, 'rgba(165,42,42,0.5)'), (4, gray_bands, 'rgba(211,211,211,0.5)'),
                      (4, yellow_bands, 'rgba(255,255,0,0.5)'), (4, cyan_bands, 'rgba(0,255,255,0.5)')]:
    for a, b in spans:
        shapes.append(dict(type='rect', xref='x' + sfx(i), yref='y%s domain' % sfx(i), x0=a, x1=b, y0=0, y1=1,
                           fillcolor=col, line=dict(width=0), layer='above'))

panel_tops = [296, 1421, 2546, 3671, 4795]
H = 912
W, HT = 3825, 6000
yranges = [[26.1, 209.4], [9.7, 234], [0.62, 10.43], [-0.1, 4.44], [-0.51, 11.53]]
ytick = [list(range(40, 201, 20)), [50, 100, 150, 200], list(range(1, 11)),
         [0, 0.5, 1, 1.5, 2, 2.5, 3, 3.5, 4], [0, 2, 4, 6, 8, 10]]
ytitles = ['Zenith BT 23 GHz, K', 'Zenith BT 31 GHz, K', 'Precip. Water Vapor, mm',
           'log10 Liquid Water Path, log10(g/m<sup>2</sup>)', 'MWR Phy Iter DQ Flag']

layout = dict(width=W, height=HT, autosize=False, margin=dict(l=0, r=0, t=0, b=0),
              paper_bgcolor='white', plot_bgcolor='white', shapes=shapes,
              font=dict(family=FONT, size=37, color=DARK))
for k in range(5):
    i = k + 1
    top = panel_tops[k]
    dom = [1 - (top + H) / HT, 1 - top / HT]
    layout['xaxis' + sfx(i)] = dict(domain=[377 / W, 3018 / W], anchor='y' + sfx(i), range=[15, 18],
                                    tickvals=[15, 15.5, 16, 16.5, 17, 17.5, 18], ticks='inside', ticklen=28,
                                    tickwidth=2, tickcolor=DARK, showline=True, linecolor=DARK, linewidth=2.5,
                                    showgrid=False, zeroline=False, ticklabelstandoff=18,
                                    tickfont=dict(size=37, color=DARK, family=FONT),
                                    title=dict(text='UTC hours on 20250506', standoff=30,
                                               font=dict(size=47, color=DARK, family=FONT)))
    layout['yaxis' + sfx(i)] = dict(domain=dom, anchor='x' + sfx(i), range=yranges[k], tickvals=ytick[k],
                                    ticks='inside', ticklen=25, tickwidth=2.5, tickcolor=AXBLUE, showline=True,
                                    linecolor=AXBLUE, linewidth=2.5, mirror=True, showgrid=False, zeroline=False,
                                    ticklabelstandoff=22, tickfont=dict(size=37, color=AXBLUE, family=FONT),
                                    title=dict(text=ytitles[k], standoff=30,
                                               font=dict(size=47, color=AXBLUE, family=FONT)))

leg = dict(bgcolor='rgba(0,0,0,0)', borderwidth=0, itemwidth=235, xanchor='left', yanchor='top',
           font=dict(size=38, color='black', family=FONT), tracegroupgap=6, itemclick=False)
# (legend left edge px, offset of legend top below its panel top)
legend_pos = [(615, 364), (651, 366), (447, 82), (2302, 640)]
for k, (lx, dy) in enumerate(legend_pos):
    key = 'legend' + sfx(k + 1)
    layout[key] = dict(leg, x=lx / W, y=1 - (panel_tops[k] + dy) / HT)
fig.update_layout(**layout)

fig.write_html("out.html")
